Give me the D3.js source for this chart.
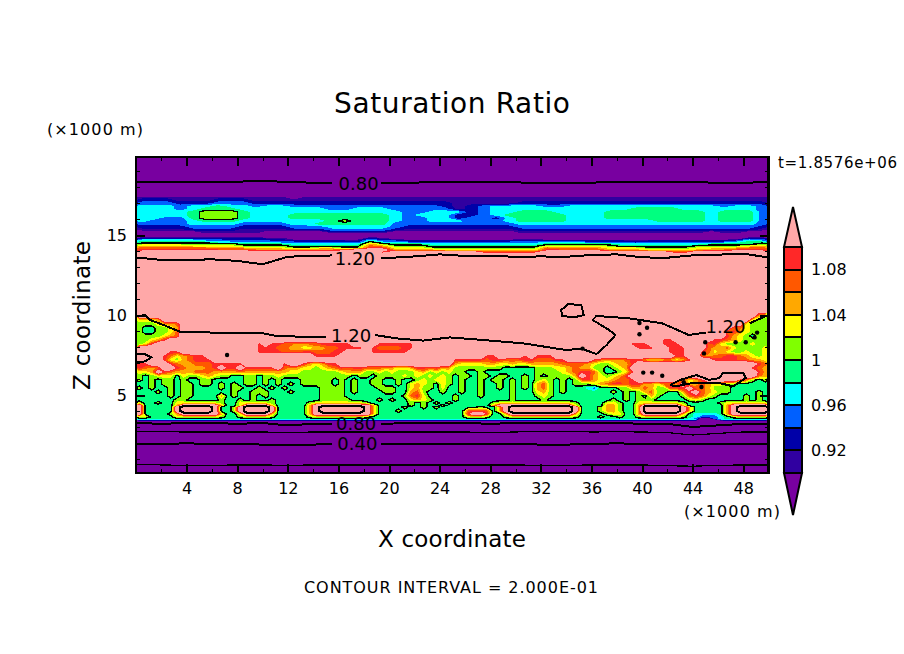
<!DOCTYPE html>
<html>
<head>
<meta charset="utf-8">
<script src="https://cdn.jsdelivr.net/npm/d3@7/dist/d3.min.js"></script>
<style>
	html, body { margin: 0; background: #fff; }
	text { font-family: "DejaVu Sans", sans-serif; fill: #000; }
	.fill, .contour { shape-rendering: crispEdges; }
	clipPath rect { shape-rendering: crispEdges; }
</style>
</head>
<body>
<script>
// colour classes, lowest to highest
var classBreaks = [0.90, 0.92, 0.94, 0.96, 0.98, 1.00, 1.02, 1.04, 1.06, 1.08, 1.10];
var classColors = ['#3000a0', '#0000a8', '#0060ff', '#00ffff', '#00ff80', '#80ff00', '#ffff00', '#ffa800', '#ff5800', '#ff2828', '#ffa8a8'];
var underColor = '#7800a0';
var barLabels = [0.92, 0.96, 1.00, 1.04, 1.08];

// one character per grid cell
var levelValues = { e: 0.85, 0: 0.91, 1: 0.93, 2: 0.95, 3: 0.97, 4: 0.99, 5: 1.01, 6: 1.03, 7: 1.05, 8: 1.07, 9: 1.09, p: 1.15, q: 1.25 };

// upper part of the domain, 1 km cells
var upperZ = [
	19.88, 17.5, 17.38, 17.19, 17, 16.81, 16.63, 16.44, 16.25, 16.06, 15.88, 15.69, 15.5, 15.31, 15.13, 14.94,
	14.81, 14.69, 14.56, 14.44, 14.31, 14.19, 14.06, 13.94, 13.69, 10
];
var upperRows = [
	'e',
	'e',
	'0000000000 00e0000000 0000000000 0000000000 0000000000',
	'1110001110 0000000000 0000000000 0000000000 0000000000',
	'2221112221 1111111111 1111100000 1111111111 1111111111',
	'3332334332 3322222222 2222101233 3322333333 3333332332',
	'3332344433 3333322333 2222201233 3333333334 4443333332',
	'3333455543 3333333333 3223331233 4443333444 4444434442',
	'3333455543 3344444444 3233311234 4444333444 4444434442',
	'3322455543 3344444444 3223312213 4444333444 4444434442',
	'3222344433 3333345444 3223332223 4444333333 3444434442',
	'2222333322 2233444444 2222222222 3333333333 3333333332',
	'1111222211 1122233333 2111111111 2222222222 2222222221',
	'0000111100 0011122222 1000000000 1111111111 1111111110',
	'eeeee00000 eeeee00000 eeeeeeeeee 0000000000 00000e00ee',
	'e',
	'1111111111 00eeeeee10 eeeeeeeeee eeeeeeeeee eeeeeeee11',
	'3333322111 1100000031 1000000000 1100000000 0000000132',
	'4444443333 3222222153 3222222222 2233322221 2222222344',
	'5555555544 4433333375 4443333333 3344444433 3333344445',
	'7777666655 5544444487 5554444444 4466666544 4444555567',
	'8888887776 6655665599 6665555555 5587777666 5555666788',
	'9999999998 8888889ppp 7777666666 6699999777 6666788999',
	'pppppppppp ppppppppp9 ppppppp999 99pppppppp pp99pppppp',
	'p',
	'p'
];

// lower part, 0.5 km cells
var lowerZ = [
	10.31, 9.94, 9.69, 9.44, 9.19, 8.94, 8.69, 8.44, 8.19, 7.94, 7.69, 7.44, 7.19, 6.94, 6.69, 6.44, 6.19, 5.94, 5.69, 5.44, 5.19, 4.94, 4.69,
	4.5, 4.34, 4.25, 4, 3.81, 3.63, 3.5, 3.44, 3.34, 0
];
var lowerRows = [
	'p',
	'pppppppppp pppppppppp pppppppppp pppppppppp pppppppppp pppppppppp pppppppppp pppppppppp pppppppppp pppppppp76',
	'6667pppppp pppppppppp pppppppppp pppppppppp pppppppppp pppppppppp pppppppppp pppppppppp pppppppppp ppppppp655',
	'5556778ppp pppppppppp pppppppppp pppppppppp pppppppppp pppppppppp pppppppppp pppppppppp pppppppppp pppppp6555',
	'5445567ppp pppppppppp pppppppppp pppppppppp pppppppppp pppppppppp pppppppppp pppppppppp pppppppppp pppp886555',
	'5445568ppp pppppppppp pppppppppp pppppppppp pppppppppp pppppppppp pppppppppp pppppppppp pppppppppp ppp8976555',
	'5555678ppp pppppppppp pppppppppp pppppppppp pppppppppp pppppppppp pppppppppp pppppppppp pppppppppp ppp9765455',
	'55679ppppp pppppppppp pppppppppp pppppppppp pppppppppp pppppppppp pppppppppp pppppppppp ppp99ppppp p998765555',
	'569ppppppp ppppppppp9 p998877889 9999pppp99 9999pppppp pppppppppp pppppppppp pppppppp99 9pp999pppp 8965555655',
	'pppppppppp ppppppppp9 9988776677 889999p988 8899pppppp pppppppppp pppppppppp ppppppppp9 99pp999ppp 8778655556',
	'ppppp99ppp ppppppppp9 9998889988 899pppp999 999ppppppp pppppppppp pppppppppp pppppppppp pppp999pp9 8676556556',
	'pppp986789 9ppppppppp pppppppp99 99pppppppp pppppppppp ppppp99ppp p9p999pppp pppppppppp ppppp99pp8 7889987656',
	'pppp965789 99pppppppp pppppppppp pppppppppp pppppppppp 9999989988 89988899pp pp98777899 76677679pp p999988776',
	'99ppp98778 8899999ppp ppp9pp9767 99pppppppp pppppppppp 7666677667 6677777888 876556779p pppppppppp pppppppp98',
	'9878pp9877 789p99p999 99p8776656 7898998887 7667998977 5555555544 4445556678 77554567pp pppppppppp ppppppp987',
	'667p987778 8877778777 7777665555 5567775565 6555675656 5544544444 4445555678 998544569p pppppppppp pppppppp97',
	'5456664655 6765544554 5565555555 5555455455 5565656565 4554554554 4545455557 p9765679pp pppppppppp pppppppp87',
	'5454554544 5544444554 5454445555 5454544554 4544565665 4544545545 4545654545 897667889p pppppp8679 ppppp98545',
	'4454554554 5545454554 5454545555 5454544554 4546765465 4544544545 4547854545 5567899899 776887p678 7665544444',
	'5454454554 4445455445 4545444445 5554544455 5446755464 4544544545 4547854544 4324445577 8755999p88 7555444444',
	'4445454554 4444454455 5444544445 5554544445 5447854454 4544544445 4446754544 4444454545 78554479p8 7655444454',
	'4444454554 4447454454 5444444445 5554444444 4458964444 5444544445 4445654444 4444444545 4754445898 6544445454',
	'4444445544 4445445454 4544444445 5555444454 5446765444 5444444445 4444544444 4444454545 5544444565 4444445454',
	'6445446666 6665446666 6544444566 6666665444 4445454545 4444445666 6666666665 4444665446 6666665444 4456666666',
	'p444447ppp ppp7446ppp p7444447pp ppppppp744 4445454454 4444447ppp ppppppppp6 4444775447 pppppp7444 4447pppppp',
	'p44444pqqq qqp445pqqq qp444447pq qqqqqqp744 4454454544 44445447pq qqqqqqqqqp 4445775447 qqqqqqp744 4447pqqqqq',
	'p44444pqqq qqp445pqqq qp444447pq qqqqqqp744 4544444444 44899847pq qqqqqqqqqp 4445775447 qqqqqqp744 4447pqqqqq',
	'p444457ppp ppp7446ppp p7444447pp ppppppp744 4444444444 449pp9447p ppppppppp7 4444566447 pppppp7433 3347pppppp',
	'6644446666 6665445666 6544444566 6666665444 4444444444 4466654456 6666666665 4445445445 6666665432 2234566666',
	'4444444444 4444444444 4444444444 4444444444 4444444444 4444444444 4444444444 4444444444 444444432e e234444444',
	'3333333333 3333333333 3333333333 3333333333 3333333333 3333333333 3333333333 3333333333 333333333e ee23333333',
	'e',
	'e'
];
var splitZ = 10.15;

// long contours, sampled along x; null leaves room for the label
var lineKm = [0, 2, 4, 6, 8, 10, 12, 14, 15.5, 17.5, 19.4, 22, 24, 26, 28, 30, 32, 34, 36, 38, 40, 42, 44, 46, 48, 50];
var top080 = [18.33, 18.33, 18.33, 18.33, 18.33, 18.39, 18.31, 18.27, 18.27, null, 18.25, 18.27, 18.33, 18.31, 18.31, 18.29, 18.25, 18.25, 18.27, 18.33, 18.33, 18.33, 18.33, 18.25, 18.25, 18.33];
var upper120 = [13.6, 13.44, 13.44, 13.48, 13.38, 13.17, 13.64, 13.7, 13.72, null, 13.54, 13.66, 13.79, 13.69, 13.69, 13.64, 13.66, 13.64, 13.75, 13.79, 13.6, 13.58, 13.73, 13.77, 13.83, 13.6];
var lower080 = [3.25, 3.2, 3.25, 3.25, 3.2, 3.25, 3.1, 3.2, 3.2, null, 3.2, 3.25, 3.25, 3.25, 3.2, 3.25, 3.25, 3.25, 3.25, 3.25, 3.2, 3.2, 3.0, 3.1, 3.2, 3.2];
var lower060 = [2.7, 2.7, 2.69, 2.69, 2.69, 2.69, 2.65, 2.69, 2.69, 2.69, 2.69, 2.69, 2.69, 2.69, 2.65, 2.69, 2.72, 2.72, 2.69, 2.7, 2.69, 2.65, 2.5, 2.6, 2.69, 2.69];
var lower040 = [1.94, 1.94, 1.98, 1.94, 1.94, 1.9, 1.88, 1.9, 1.94, null, 1.94, 1.94, 1.94, 1.94, 1.94, 1.94, 1.9, 1.9, 1.94, 1.98, 1.94, 1.94, 1.94, 1.94, 1.94, 1.94];
var lower020 = [0.66, 0.63, 0.6, 0.6, 0.63, 0.63, 0.6, 0.63, 0.63, 0.63, 0.63, 0.63, 0.63, 0.63, 0.63, 0.63, 0.6, 0.6, 0.63, 0.63, 0.63, 0.58, 0.55, 0.6, 0.63, 0.63];

// the torn 1.20 contour in the middle, traced as km / z pairs
var mid120a = [[0, 9.9], [0.7, 10], [1.1, 9.69], [2.16, 9.38], [3.47, 8.96], [6.1, 8.9], [10.05, 8.85], [11.1, 8.69], [15.05, 8.6]];
var mid120b = [[18.87, 8.75], [20.6, 8.54], [22.7, 8.4], [24.8, 8.6], [27.4, 8.44], [30.6, 8.23], [34, 7.81], [35.2, 7.9], [36.4, 7.56], [37.2, 8.12], [37.9, 8.75], [37.4, 9.06], [36.1, 9.69], [36.4, 9.94], [39, 9.79], [41.6, 9.48], [43.7, 8.75], [45.05, 8.9]];
var mid120c = [[48.5, 9.48], [50, 10]];
var islandA = [[0, 7.6], [0.7, 7.55], [1.2, 7.35], [0.7, 7.1], [0, 7.05]];
var islandB = [[33.6, 10.3], [34.2, 10.7], [35.2, 10.6], [35.4, 10], [34.6, 9.85], [33.7, 9.95], [33.6, 10.3]];
var islandC = [[42.2, 5.62], [43, 5.94], [44.3, 6.25], [45.3, 5.94], [46.1, 6.06], [46.4, 6.37], [48, 6.37], [48.2, 6.06], [47.2, 5.54], [46.1, 5.75], [44, 5.75], [42.7, 5.54], [42.2, 5.62]];
var specks = [[39.8, 9.5], [39.8, 8.8], [40.4, 9.2], [45, 8.3], [47.4, 8.3], [48.2, 8.3], [44.9, 7.6], [49.1, 8.9], [48.9, 8.6], [40.1, 6.4], [40.8, 6.4], [41.6, 6.2], [43.3, 5.8], [44.7, 5.5], [35.3, 7.9], [7.2, 7.5]];

// inline contour labels
var labelText = ['0.80', '1.20', '1.20', '1.20', '0.80', '0.40'];
var labelKm = [17.6, 17.3, 17, 46.6, 17.4, 17.5];
var labelZ = [18.19, 13.56, 8.69, 9.25, 3.19, 1.94];

var xMajor = d3.range(4, 49, 4);
var xMinor = d3.range(2, 50, 4);
var zMajor = [5, 10, 15];
var zMinor = d3.range(1, 20).filter(function(d) { return d % 5 != 0; });

var plot = { left: 136, right: 768.5, top: 157, bottom: 473 };
var bar = { left: 784, right: 802, top: 247, bottom: 473, tipTop: 207, tipBottom: 515 };

var x = d3.scaleLinear().domain([0, 50]).range([plot.left, plot.right]);
var z = d3.scaleLinear().domain([0.125, 19.875]).range([plot.bottom, plot.top]);
var barScale = d3.scaleLinear().domain([0.90, 1.10]).range([bar.bottom, bar.top]);

var svg = d3.select('body').append('svg')
	.attr('width', 904)
	.attr('height', 654)
	.style('display', 'block');

function addClip(id, top, bottom) {
	svg.append('clipPath').attr('id', id).append('rect')
		.attr('x', plot.left)
		.attr('y', top)
		.attr('width', plot.right - plot.left)
		.attr('height', bottom - top);
}
var seam = Math.round(z(splitZ));
addClip('plot-clip', plot.top, plot.bottom);
addClip('upper-clip', plot.top, seam + 1);
addClip('lower-clip', seam, plot.bottom);

var field = svg.append('g').attr('clip-path', 'url(#plot-clip)');

field.append('rect')
	.attr('x', plot.left)
	.attr('y', plot.top)
	.attr('width', plot.right - plot.left)
	.attr('height', plot.bottom - plot.top)
	.attr('fill', underColor);

// Fill one grid and stroke the 1.0 and 1.2 contours that come out of it
function drawGrid(rows, rowZ, cols, clipId) {
	var values = [];
	rows.forEach(function(row) {
		var cells = row.replace(/ /g, '');
		for (var c = 0; c < cols; c++) {
			values.push(levelValues[cells[Math.floor(c * cells.length / cols)]]);
		}
	});

	// grid index to km / z to pixels
	var rowToZ = d3.scaleLinear()
		.domain(rowZ.map(function(d, i) { return i + 0.5; }))
		.range(rowZ)
		.clamp(true);
	var gridPath = d3.geoPath(d3.geoTransform({
		point: function(cx, cy) {
			this.stream.point(x(cx * 50 / cols), z(rowToZ(cy)));
		}
	}));
	var contours = d3.contours().size([cols, rows.length]);
	var g = field.append('g').attr('clip-path', 'url(#' + clipId + ')');

	g.selectAll('path.fill')
		.data(classBreaks.map(function(t, i) {
			var c = contours.contour(values, t);
			c.color = classColors[i];
			return c;
		}))
		.enter().append('path')
		.classed('fill', true)
		.attr('d', gridPath)
		.attr('fill', function(d) { return d.color; });

	g.selectAll('path.contour')
		.data([{ t: 1.0, w: 1.3 }, { t: 1.2, w: 2 }])
		.enter().append('path')
		.classed('contour', true)
		.attr('d', function(d) { return gridPath(contours.contour(values, d.t)); })
		.attr('fill', 'none')
		.attr('stroke', '#000')
		.attr('stroke-width', function(d) { return d.w; });
}
drawGrid(upperRows, upperZ, 50, 'upper-clip');
drawGrid(lowerRows, lowerZ, 100, 'lower-clip');

// Long horizontal contours
var sampled = d3.line()
	.defined(function(d) { return d[1] !== null; })
	.x(function(d) { return x(d[0]); })
	.y(function(d) { return z(d[1]); });

[
	{ v: top080, w: 2 }, { v: upper120, w: 2 }, { v: lower080, w: 2 },
	{ v: lower060, w: 1.2 }, { v: lower040, w: 2 }, { v: lower020, w: 1.2 }
].forEach(function(s) {
	field.append('path')
		.classed('contour', true)
		.attr('d', sampled(d3.zip(lineKm, s.v)))
		.attr('fill', 'none')
		.attr('stroke', '#000')
		.attr('stroke-width', s.w);
});

// Traced contours
field.selectAll('path.trace')
	.data([mid120a, mid120b, mid120c, islandA, islandB, islandC])
	.enter().append('path')
	.classed('contour', true)
	.attr('d', sampled)
	.attr('fill', 'none')
	.attr('stroke', '#000')
	.attr('stroke-width', 2);

field.selectAll('circle.speck')
	.data(specks)
	.enter().append('circle')
	.attr('cx', function(d) { return x(d[0]); })
	.attr('cy', function(d) { return z(d[1]); })
	.attr('r', 2.2)
	.attr('fill', '#000');

// Contour labels
field.selectAll('text.label')
	.data(labelText)
	.enter().append('text')
	.attr('x', function(d, i) { return x(labelKm[i]); })
	.attr('y', function(d, i) { return z(labelZ[i]); })
	.attr('dy', '0.36em')
	.attr('text-anchor', 'middle')
	.style('font-size', '18px')
	.text(function(d) { return d; });

// Axes: every side has ticks pointing inward, labels only bottom and left
function drawAxis(axis, transform, values, size, width, format) {
	var g = svg.append('g')
		.attr('transform', transform)
		.call(axis.tickValues(values).tickSize(size).tickSizeOuter(0).tickFormat(format));
	g.select('.domain').remove();
	g.selectAll('.tick line').attr('stroke', '#000').attr('stroke-width', width).style('shape-rendering', 'crispEdges');
	return g;
}
function blank() { return ''; }
function plain(d) { return d; }

var tr = function(a, b) { return 'translate(' + a + ',' + b + ')'; };
drawAxis(d3.axisBottom(x).tickPadding(10), tr(0, plot.bottom), xMajor, -9, 2, plain);
drawAxis(d3.axisBottom(x), tr(0, plot.bottom), xMinor, -4, 1, blank);
drawAxis(d3.axisTop(x), tr(0, plot.top), xMajor, -9, 2, blank);
drawAxis(d3.axisTop(x), tr(0, plot.top), xMinor, -4, 1, blank);
drawAxis(d3.axisLeft(z).tickPadding(9), tr(plot.left, 0), zMajor, -9, 2, plain);
drawAxis(d3.axisLeft(z), tr(plot.left, 0), zMinor, -4, 1, blank);
drawAxis(d3.axisRight(z), tr(plot.right, 0), zMajor, -9, 2, blank);
drawAxis(d3.axisRight(z), tr(plot.right, 0), zMinor, -4, 1, blank);

svg.selectAll('.tick text').style('fill', '#000').style('font-family', '"DejaVu Sans", sans-serif').style('font-size', '16px');

// Frame
svg.append('rect')
	.attr('x', plot.left)
	.attr('y', plot.top)
	.attr('width', plot.right - plot.left)
	.attr('height', plot.bottom - plot.top)
	.attr('fill', 'none')
	.attr('stroke', '#000')
	.attr('stroke-width', 2.5)
	.style('shape-rendering', 'crispEdges');

// Colour bar with its two end arrows
var barMid = (bar.left + bar.right) / 2;
svg.selectAll('rect.swatch')
	.data(classColors.slice(0, -1))
	.enter().append('rect')
	.attr('x', bar.left)
	.attr('y', function(d, i) { return barScale(classBreaks[i + 1]); })
	.attr('width', bar.right - bar.left)
	.attr('height', function(d, i) { return barScale(classBreaks[i]) - barScale(classBreaks[i + 1]); })
	.attr('fill', function(d) { return d; })
	.attr('stroke', '#000')
	.attr('stroke-width', 2)
	.style('shape-rendering', 'crispEdges');

var tip = d3.line();
svg.append('path')
	.attr('d', tip([[bar.left, bar.top], [barMid, bar.tipTop], [bar.right, bar.top]]) + 'Z')
	.attr('fill', classColors[classColors.length - 1])
	.attr('stroke', '#000')
	.attr('stroke-width', 2);
svg.append('path')
	.attr('d', tip([[bar.left, bar.bottom], [barMid, bar.tipBottom], [bar.right, bar.bottom]]) + 'Z')
	.attr('fill', underColor)
	.attr('stroke', '#000')
	.attr('stroke-width', 2);

svg.selectAll('text.bar-label')
	.data(barLabels)
	.enter().append('text')
	.attr('x', 811)
	.attr('y', function(d) { return barScale(d); })
	.attr('dy', '0.36em')
	.style('font-size', '16px')
	.text(function(d) { return d == 1 ? '1' : d3.format('.2f')(d); });

// Titles
function label(text, px, py, size, width, anchor) {
	return svg.append('text')
		.attr('x', px)
		.attr('y', py)
		.attr('text-anchor', anchor || 'start')
		.attr('textLength', width)
		.attr('lengthAdjust', 'spacing')
		.style('font-size', size + 'px')
		.text(text);
}
label('Saturation Ratio', 334, 113, 28, 236);
label('(×1000 m)', 47, 135, 16, 96);
label('t=1.8576e+06', 778, 168, 15, 119);
label('(×1000 m)', 684, 517, 16, 96);
label('X coordinate', 378, 547, 23, 148);
label('CONTOUR INTERVAL = 2.000E-01', 304, 593, 16, 294);
svg.append('text')
	.attr('transform', 'translate(90,390) rotate(-90)')
	.attr('textLength', 149)
	.style('font-size', '23px')
	.text('Z coordinate');
</script>
</body>
</html>
